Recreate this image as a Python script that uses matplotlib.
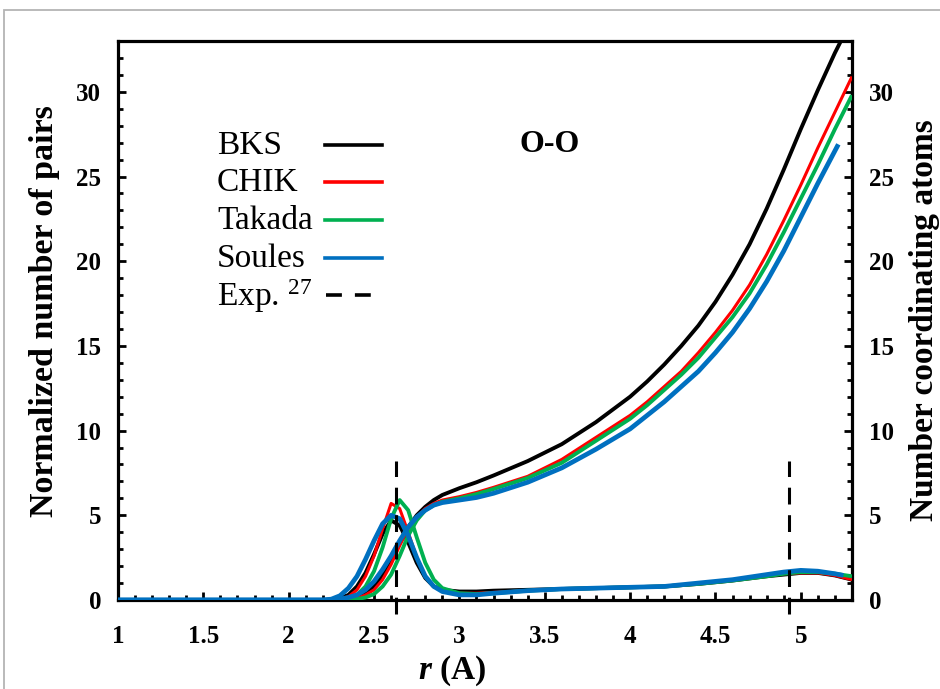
import matplotlib
matplotlib.use("Agg")
import matplotlib.pyplot as plt
from matplotlib.patches import Rectangle
from matplotlib.lines import Line2D
from matplotlib.ticker import MultipleLocator

plt.rcParams['font.family'] = ['Liberation Serif', 'DejaVu Serif']
plt.rcParams['mathtext.fontset'] = 'custom'
plt.rcParams['mathtext.rm'] = 'Liberation Serif'
plt.rcParams['mathtext.it'] = 'Liberation Serif:italic:bold'

# pair distribution g(r) (left axis)
r_g = [1.0, 2.2, 2.25, 2.3, 2.35, 2.4, 2.45, 2.5, 2.55, 2.6, 2.65, 2.7, 2.75, 2.8, 2.85,
       2.9, 3.0, 3.1, 3.2, 3.4, 3.6, 3.8, 4.0, 4.2, 4.4, 4.6, 4.8, 4.9, 5.0, 5.1, 5.2, 5.3]
g_bks = [0, 0, 0.02, 0.1, 0.3, 0.8, 1.6, 2.7, 3.9, 4.7, 4.4, 3.4, 2.2, 1.3, 0.8,
         0.6, 0.5, 0.5, 0.55, 0.6, 0.65, 0.7, 0.75, 0.8, 0.95, 1.15, 1.4, 1.5, 1.6, 1.6, 1.45, 1.2]
g_chik = [0, 0, 0.01, 0.05, 0.2, 0.6, 1.4, 2.6, 4.2, 5.7, 5.4, 4.0, 2.5, 1.4, 0.8,
          0.55, 0.4, 0.4, 0.45, 0.55, 0.65, 0.7, 0.75, 0.8, 0.95, 1.15, 1.4, 1.55, 1.6, 1.6, 1.45, 1.2]
g_takada = [0, 0, 0, 0, 0.1, 0.3, 0.8, 1.7, 3.1, 4.8, 5.9, 5.3, 3.7, 2.2, 1.2,
            0.7, 0.4, 0.35, 0.4, 0.55, 0.65, 0.7, 0.75, 0.8, 0.95, 1.15, 1.4, 1.55, 1.65, 1.65, 1.55, 1.4]
r_g_soules = r_g[:-1] + [5.25]
g_soules = [0, 0, 0.05, 0.25, 0.7, 1.4, 2.4, 3.5, 4.5, 5.0, 4.8, 3.8, 2.5, 1.4, 0.8,
            0.5, 0.3, 0.3, 0.4, 0.55, 0.65, 0.7, 0.75, 0.8, 1.0, 1.2, 1.5, 1.65, 1.75, 1.7, 1.55, 1.45]

# running coordination number N(r) (right axis)
r_n = [1.0, 2.25, 2.3, 2.35, 2.4, 2.45, 2.5, 2.55, 2.6, 2.65, 2.7, 2.75, 2.8, 2.85, 2.9,
       3.0, 3.1, 3.2, 3.4, 3.6, 3.8, 4.0, 4.1, 4.2, 4.3, 4.4, 4.5, 4.6, 4.7, 4.8, 4.9,
       5.0, 5.1, 5.2, 5.3]
n_bks = [0, 0, 0, 0.05, 0.15, 0.35, 0.8, 1.5, 2.4, 3.4, 4.3, 5.0, 5.5, 5.9, 6.2,
         6.6, 6.95, 7.35, 8.2, 9.2, 10.5, 12.0, 12.9, 13.9, 15.0, 16.2, 17.6, 19.2, 21.0, 23.1, 25.4,
         27.8, 30.1, 32.3, 34.3]
n_chik = [0, 0, 0, 0.03, 0.1, 0.3, 0.6, 1.2, 2.1, 3.2, 4.2, 4.9, 5.4, 5.7, 5.9,
          6.1, 6.35, 6.65, 7.3, 8.3, 9.6, 10.9, 11.7, 12.6, 13.5, 14.6, 15.8, 17.1, 18.6, 20.4, 22.4,
          24.5, 26.7, 28.8, 30.9]
n_takada = [0, 0, 0, 0, 0.05, 0.15, 0.35, 0.8, 1.5, 2.6, 3.8, 4.7, 5.3, 5.6, 5.8,
            6.0, 6.25, 6.55, 7.2, 8.1, 9.4, 10.7, 11.5, 12.4, 13.3, 14.3, 15.5, 16.7, 18.1, 19.8, 21.7,
            23.7, 25.7, 27.8, 29.8]
r_n_soules = r_n[:-2] + [5.22]
n_soules = [0, 0, 0.05, 0.15, 0.3, 0.6, 1.1, 1.8, 2.6, 3.5, 4.3, 4.9, 5.3, 5.6, 5.75,
            5.9, 6.05, 6.3, 6.95, 7.8, 8.9, 10.1, 10.9, 11.7, 12.6, 13.5, 14.6, 15.8, 17.2, 18.8, 20.6,
            22.6, 24.6, 26.9]

# experimental peak positions
exp_r = [2.63, 4.93]

labels = ['BKS', 'CHIK', 'Takada', 'Soules']
colors = ['black', '#ff0000', '#00b050', '#0070c0']
widths = [2.8, 2.2, 2.8, 3.4]

fig = plt.figure(figsize=(9.4, 6.89), dpi=100)
fig.patches.append(Rectangle((4 / 940, -0.1), 1.2, 1 - 10 / 689 + 0.1, transform=fig.transFigure,
                             fill=False, edgecolor='#b4b4b4', linewidth=1.3))
ax = fig.add_axes([118 / 940, 1 - 600 / 689, (852 - 118) / 940, (600 - 41) / 689])

g_data = [(r_g, g_bks), (r_g, g_chik), (r_g, g_takada), (r_g_soules, g_soules)]
n_data = [(r_n, n_bks), (r_n, n_chik), (r_n, n_takada), (r_n_soules, n_soules)]
for i in range(4):
    ax.plot(*g_data[i], color=colors[i], lw=widths[i], zorder=3 + i, solid_capstyle='butt')
    ax.plot(*n_data[i], color=colors[i], lw=widths[i], zorder=3 + i, solid_capstyle='butt')

dash = (0, (5.5, 3.5))
for xe in exp_r:
    ax.plot([xe, xe], [-0.8, 8.2], color='black', lw=2.2, ls=dash, clip_on=False, zorder=10)

ax.set_xlim(1, 5.3)
ax.set_ylim(0, 33)
ax.xaxis.set_major_locator(MultipleLocator(0.5))
ax.xaxis.set_minor_locator(MultipleLocator(0.1))
ax.yaxis.set_major_locator(MultipleLocator(5))
ax.yaxis.set_minor_locator(MultipleLocator(1))
ax.xaxis.set_major_formatter(plt.FuncFormatter(lambda v, p: f"{v:g}"))
ax.yaxis.set_major_formatter(plt.FuncFormatter(lambda v, p: f"{v:g}"))
for s in ax.spines.values():
    s.set_linewidth(2.3)
ax.tick_params(which='both', direction='in', width=2.0, top=False, right=True,
               labelright=True)
ax.tick_params(which='major', length=6)
ax.tick_params(which='minor', length=3.5)
ax.tick_params(axis='y', which='major', pad=12, labelsize=18)
ax.tick_params(axis='x', which='major', pad=18, labelsize=18)
for t in ax.yaxis.get_major_ticks():
    t.label1.set_fontweight('bold')
    t.label2.set_fontweight('bold')
for t in ax.xaxis.get_major_ticks():
    t.label1.set_fontweight('bold')

fig.text(452 / 940, 1 - 671 / 689, '$r$ (A)', fontsize=24, fontweight='bold',
         ha='center', va='center')
fig.text(45 / 940, 1 - 311 / 689, 'Normalized number of pairs', rotation=90, fontsize=24.5,
         fontweight='bold', ha='center', va='center')
fig.text(925 / 940, 1 - 320 / 689, 'Number coordinating atoms', rotation=90, fontsize=24,
         fontweight='bold', ha='center', va='center')
fig.text(550 / 940, 1 - 145 / 689, 'O-O', fontsize=23, fontweight='bold',
         ha='center', va='center')

# legend: text left, line sample right
leg_text = labels + ['Exp. $^{27}$']
leg_y = [146, 183, 221, 259, 296]
for i, (txt, yy) in enumerate(zip(leg_text, leg_y)):
    yf = 1 - yy / 689
    fig.text(217 / 940, yf, txt, fontsize=24, ha='left', va='center')
    if i < 4:
        fig.add_artist(Line2D([325 / 940, 382 / 940], [yf + 1 / 689, yf + 1 / 689],
                              color=colors[i], lw=2.6, transform=fig.transFigure))
    else:
        fig.add_artist(Line2D([326 / 940, 371 / 940], [yf + 1 / 689, yf + 1 / 689],
                              color='black', lw=2.6, ls=(0, (4.4, 3.6)),
                              transform=fig.transFigure))

fig.savefig('out.png', dpi=100)
